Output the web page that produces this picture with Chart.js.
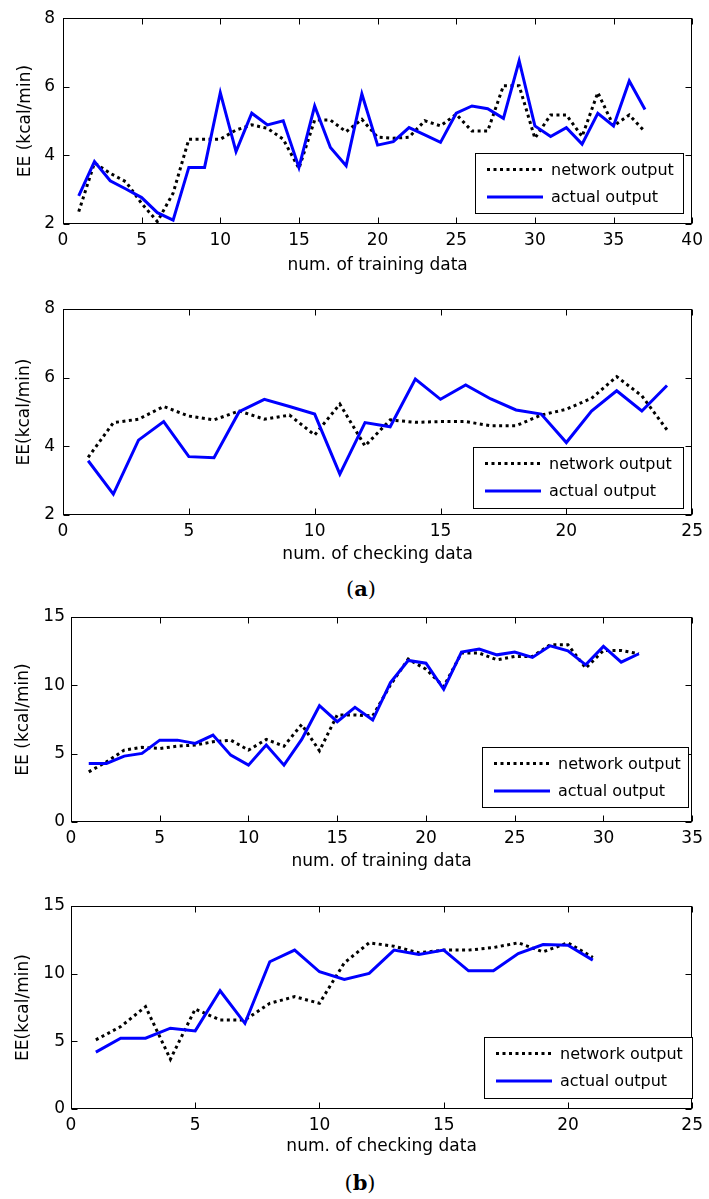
<!DOCTYPE html>
<html>
<head>
<meta charset="utf-8">
<script src="https://cdn.jsdelivr.net/npm/chart.js@4.4.1/dist/chart.umd.min.js"></script>
<style>
  html,body{margin:0;padding:0;background:#fff;}
  #wrap{position:relative;width:709px;height:1199px;overflow:hidden;}
  canvas{position:absolute;left:0;}
  .cap{position:absolute;width:200px;text-align:center;font-family:'DejaVu Serif',serif;font-size:21px;line-height:26px;color:#000;}
</style>
</head>
<body>
<div id="wrap">
  <canvas id="c1" width="709" height="290" style="top:0px"></canvas>
  <canvas id="c2" width="709" height="280" style="top:290px"></canvas>
  <div class="cap" style="left:261px;top:576px">(<b>a</b>)</div>
  <canvas id="c3" width="709" height="280" style="top:600px"></canvas>
  <canvas id="c4" width="709" height="290" style="top:880px"></canvas>
  <div class="cap" style="left:260px;top:1170px">(<b>b</b>)</div>
</div>
<script>
// ---------- data ----------
const trainIdxA = [1,2,3,4,5,6,7,8,9,10,11,12,13,14,15,16,17,18,19,20,21,22,23,24,25,26,27,28,29,30,31,32,33,34,35,36,37];
const netTrainA = [2.36,3.78,3.48,3.23,2.60,2.07,2.90,4.47,4.47,4.47,4.74,4.89,4.79,4.47,3.62,5.03,5.03,4.69,5.05,4.53,4.50,4.53,5.01,4.86,5.20,4.71,4.71,6.03,6.03,4.50,5.18,5.18,4.55,5.83,4.86,5.18,4.69];
const actTrainA = [2.82,3.82,3.26,3.02,2.77,2.33,2.11,3.65,3.65,5.83,4.11,5.23,4.89,5.01,3.65,5.44,4.23,3.70,5.79,4.30,4.40,4.81,4.60,4.38,5.23,5.44,5.36,5.08,6.76,4.86,4.55,4.81,4.33,5.23,4.86,6.17,5.34];

const checkIdxA = [1,2,3,4,5,6,7,8,9,10,11,12,13,14,15,16,17,18,19,20,21,22,23,24];
const netCheckA = [3.68,4.69,4.79,5.16,4.88,4.77,5.03,4.79,4.91,4.33,5.23,4.01,4.77,4.70,4.72,4.72,4.60,4.60,4.91,5.08,5.40,6.03,5.47,4.48];
const actCheckA = [3.58,2.61,4.18,4.72,3.70,3.67,5.01,5.37,5.16,4.94,3.19,4.69,4.57,5.96,5.37,5.79,5.38,5.06,4.94,4.11,5.03,5.62,5.03,5.77];

const trainIdxB = [1,2,3,4,5,6,7,8,9,10,11,12,13,14,15,16,17,18,19,20,21,22,23,24,25,26,27,28,29,30,31,32];
const netTrainB = [3.67,4.40,5.26,5.46,5.38,5.55,5.63,5.87,5.99,5.26,6.04,5.55,7.14,5.21,7.83,7.83,7.76,10.03,11.92,11.18,9.91,12.36,12.36,11.87,12.11,12.11,12.97,12.97,11.26,12.55,12.55,12.31];
const actTrainB = [4.28,4.28,4.82,5.02,5.99,5.99,5.75,6.36,4.89,4.16,5.63,4.16,6.04,8.51,7.34,8.39,7.46,10.20,11.82,11.62,9.71,12.43,12.65,12.23,12.43,12.04,12.89,12.53,11.50,12.85,11.70,12.31];

const checkIdxB = [1,2,3,4,5,6,7,8,9,10,11,12,13,14,15,16,17,18,19,20,21];
const netCheckB = [5.11,6.09,7.56,3.68,7.39,6.58,6.58,7.81,8.30,7.81,10.80,12.28,12.03,11.54,11.74,11.74,11.93,12.28,11.61,12.28,11.20];
const actCheckB = [4.20,5.23,5.23,5.97,5.77,8.74,6.33,10.88,11.74,10.14,9.58,10.02,11.74,11.42,11.74,10.21,10.21,11.49,12.15,12.10,11.00];

const seriesNames = ['network output','actual output'];
const xTitles = ['num. of training data','num. of checking data'];
const yTitles = ['EE (kcal/min)','EE(kcal/min)'];

// ---------- drawing ----------
const FAMILY = "'DejaVu Sans', sans-serif";

const framePlugin = {
  id: 'frame',
  afterDatasetsDraw(chart, args, opts) {
    const {ctx, chartArea: a, scales: {x, y}} = chart;
    ctx.save();
    ctx.strokeStyle = '#000';
    ctx.lineWidth = 1;
    ctx.setLineDash([]);
    const L = Math.round(a.left) + 0.5, R = Math.round(a.right) - 0.5;
    const T = Math.round(a.top) + 0.5, B = Math.round(a.bottom) - 0.5;
    const tl = 6;
    ctx.beginPath();
    x.ticks.forEach(t => {
      const p = Math.round(x.getPixelForValue(t.value)) + 0.5;
      ctx.moveTo(p, B); ctx.lineTo(p, B - tl);
      ctx.moveTo(p, T); ctx.lineTo(p, T + tl);
    });
    y.ticks.forEach(t => {
      const p = Math.round(y.getPixelForValue(t.value)) + 0.5;
      ctx.moveTo(L, p); ctx.lineTo(L + tl, p);
      ctx.moveTo(R, p); ctx.lineTo(R - tl, p);
    });
    ctx.stroke();
    ctx.strokeRect(L, T, R - L, B - T);

    // legend box
    const lg = opts.box;
    if (lg) {
      ctx.fillStyle = '#fff';
      ctx.fillRect(lg.x, lg.y, lg.w, lg.h);
      ctx.strokeStyle = '#000';
      ctx.lineWidth = 1;
      ctx.strokeRect(Math.round(lg.x) + 0.5, Math.round(lg.y) + 0.5, lg.w, lg.h);
      const rows = [lg.y + 16.5, lg.y + 44];
      chart.data.datasets.forEach((ds, i) => {
        const ry = rows[i];
        ctx.beginPath();
        ctx.strokeStyle = ds.borderColor;
        ctx.lineWidth = ds.borderWidth;
        ctx.setLineDash(ds.borderDash || []);
        ctx.lineCap = 'butt';
        ctx.moveTo(lg.x + 12, ry);
        ctx.lineTo(lg.x + 68, ry);
        ctx.stroke();
        ctx.setLineDash([]);
        ctx.fillStyle = '#000';
        ctx.font = '16px ' + FAMILY;
        ctx.textAlign = 'left';
        ctx.textBaseline = 'middle';
        ctx.fillText(ds.label, lg.x + 76, ry + 1);
      });
    }
    ctx.restore();
  }
};

function pts(xs, ys) { return xs.map((v, i) => ({x: v, y: ys[i]})); }

function makeChart(id, p) {
  const canvas = document.getElementById(id);
  const H = canvas.height;
  const top = p.canvasTop;
  const a = p.area;
  return new Chart(canvas, {
    type: 'line',
    data: {
      datasets: [
        {label: seriesNames[0], data: pts(p.xs, p.net), borderColor: '#000', borderWidth: 3,
         borderDash: [3, 3.5], pointRadius: 0, tension: 0, fill: false, order: 1},
        {label: seriesNames[1], data: pts(p.xs, p.act), borderColor: '#0000ff', borderWidth: 3,
         pointRadius: 0, tension: 0, fill: false, order: 0}
      ]
    },
    options: {
      responsive: false,
      animation: false,
      devicePixelRatio: 1,
      layout: {padding: {top: a.top - top, right: 709 - a.right, left: 0, bottom: 0}},
      plugins: {
        legend: {display: false},
        tooltip: {enabled: false},
        frame: {box: p.legend}
      },
      scales: {
        x: {
          type: 'linear', min: 0, max: p.xmax,
          afterFit: s => { s.height = (top + H) - a.bottom; },
          grid: {display: false, drawTicks: false, tickLength: 0},
          border: {display: false},
          ticks: {stepSize: 5, color: '#000', font: {family: FAMILY, size: 17}, padding: p.xTickPad, maxRotation: 0, autoSkip: false},
          title: {display: true, text: p.xTitle, color: '#000', font: {family: FAMILY, size: 17},
                  padding: {top: 0, bottom: (top + H) - 10.2 - p.xTitleY}}
        },
        y: {
          type: 'linear', min: p.ymin, max: p.ymax,
          afterFit: s => { s.width = a.left; },
          grid: {display: false, drawTicks: false, tickLength: 0},
          border: {display: false},
          ticks: {stepSize: p.ystep, color: '#000', font: {family: FAMILY, size: 17}, padding: p.yTickPad, autoSkip: false},
          title: {display: true, text: p.yTitle, color: '#000', font: {family: FAMILY, size: 17},
                  padding: {top: p.yTitleX - 10.2, bottom: 0}}
        }
      }
    },
    plugins: [framePlugin]
  });
}

makeChart('c1', {
  canvasTop: 0, area: {left: 63, top: 18, right: 697, bottom: 224},
  xs: trainIdxA, net: netTrainA, act: actTrainA,
  xmax: 40, ymin: 2, ymax: 8, ystep: 2,
  xTitle: xTitles[0], yTitle: yTitles[0], xTitleY: 266, yTitleX: 26,
  xTickPad: 6, yTickPad: 8,
  legend: {x: 475, y: 153, w: 208, h: 60}
});
makeChart('c2', {
  canvasTop: 290, area: {left: 63, top: 309, right: 697, bottom: 515},
  xs: checkIdxA, net: netCheckA, act: actCheckA,
  xmax: 25, ymin: 2, ymax: 8, ystep: 2,
  xTitle: xTitles[1], yTitle: yTitles[1], xTitleY: 555, yTitleX: 25,
  xTickPad: 6, yTickPad: 8,
  legend: {x: 473, y: 157, w: 210, h: 61}
});
makeChart('c3', {
  canvasTop: 600, area: {left: 71, top: 617, right: 698, bottom: 822},
  xs: trainIdxB, net: netTrainB, act: actTrainB,
  xmax: 35, ymin: 0, ymax: 15, ystep: 5,
  xTitle: xTitles[0], yTitle: yTitles[0], xTitleY: 861.5, yTitleX: 23.5,
  xTickPad: 6, yTickPad: 6,
  legend: {x: 482, y: 147, w: 206, h: 60}
});
makeChart('c4', {
  canvasTop: 880, area: {left: 71, top: 906, right: 698, bottom: 1109},
  xs: checkIdxB, net: netCheckB, act: actCheckB,
  xmax: 25, ymin: 0, ymax: 15, ystep: 5,
  xTitle: xTitles[1], yTitle: yTitles[1], xTitleY: 1147, yTitleX: 23.5,
  xTickPad: 6, yTickPad: 6,
  legend: {x: 484, y: 157, w: 208, h: 61}
});
</script>
</body>
</html>
